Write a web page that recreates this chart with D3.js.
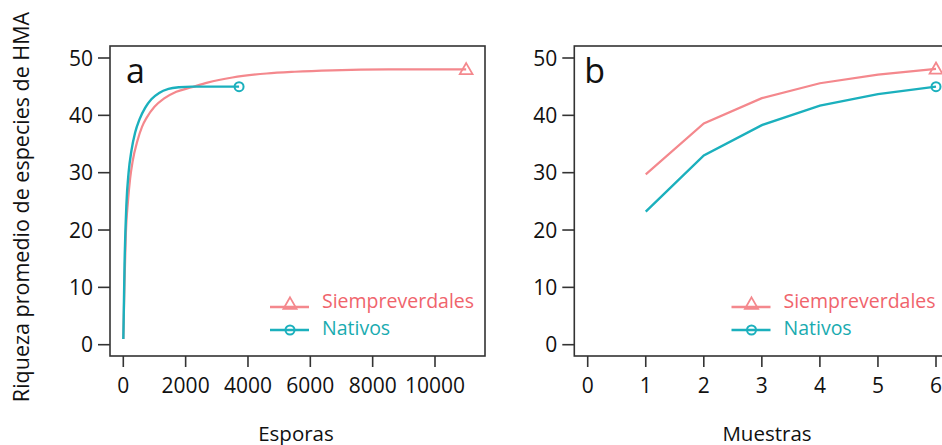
<!DOCTYPE html>
<html>
<head>
<meta charset="utf-8">
<script src="https://cdn.jsdelivr.net/npm/d3@7"></script>
<style>
  body { margin: 0; background: #fff; }
  svg { display: block; font-family: "Open Sans", sans-serif; }
</style>
</head>
<body>
<div id="chart"></div>
<script>
// panel a: richness vs spores
var sporesSiemp = [1, 40, 80, 150, 220, 300, 450, 600, 750, 1000, 1300, 1700, 2200, 2700, 3500, 4600, 5500, 6700, 8500, 11000];
var richSiemp   = [1, 11, 19, 25, 29, 32, 35.5, 38, 39.6, 41.5, 42.9, 44.1, 44.9, 45.7, 46.6, 47.3, 47.6, 47.85, 48, 48];
var sporesNat = [1, 40, 100, 170, 260, 380, 520, 700, 900, 1150, 1450, 1800, 2200, 3000, 3714];
var richNat   = [1, 14, 24.5, 30, 33.8, 37, 39.3, 41.3, 42.8, 43.9, 44.6, 44.9, 45, 45, 45];

// panel b: richness vs samples
var muestras = [1, 2, 3, 4, 5, 6];
var richSiempB = [29.7, 38.6, 43.0, 45.6, 47.1, 48.1];
var richNatB   = [23.2, 33.0, 38.3, 41.7, 43.7, 45.0];

var yTicks = [0, 10, 20, 30, 40, 50];
var xTicksA = [0, 2000, 4000, 6000, 8000, 10000];
var xTicksB = [0, 1, 2, 3, 4, 5, 6];
var seriesNames = ['Siempreverdales', 'Nativos'];

var PINK = '#f4888d', PINK_TXT = '#f0646c';
var TEAL = '#1bb0bd', TEAL_TXT = '#19abb0';

var W = 942, H = 445;
var svg = d3.select('#chart').append('svg')
  .attr('width', W).attr('height', H);

var plotTop = 46, plotBottom = 356, plotW = 375;
var y = d3.scaleLinear().domain([0, 50]).range([344.7, 58]);

function zip(a, b) { return a.map(function(v, i) { return [v, b[i]]; }); }

function drawPanel(opts) {
  var g = svg.append('g');
  var x = d3.scaleLinear().domain(opts.xDomain).range(opts.xRange);

  g.append('rect')
    .attr('x', opts.left).attr('y', plotTop)
    .attr('width', plotW).attr('height', plotBottom - plotTop)
    .attr('fill', 'none').attr('stroke', '#333').attr('stroke-width', 1.6);

  // y axis ticks
  g.selectAll('.yt').data(yTicks).enter().append('line')
    .attr('x1', opts.left - 12).attr('x2', opts.left)
    .attr('y1', function(d) { return y(d); }).attr('y2', function(d) { return y(d); })
    .attr('stroke', '#333').attr('stroke-width', 1.6);
  g.selectAll('.yl').data(yTicks).enter().append('text')
    .attr('x', opts.left - 17).attr('y', function(d) { return y(d) + 7.5; })
    .attr('text-anchor', 'end').attr('font-size', 21).attr('fill', '#111')
    .text(function(d) { return d; });

  // x axis ticks
  g.selectAll('.xt').data(opts.xTicks).enter().append('line')
    .attr('x1', function(d) { return x(d); }).attr('x2', function(d) { return x(d); })
    .attr('y1', plotBottom).attr('y2', plotBottom + 11)
    .attr('stroke', '#333').attr('stroke-width', 1.6);
  g.selectAll('.xl').data(opts.xTicks).enter().append('text')
    .attr('x', function(d) { return x(d); }).attr('y', 393)
    .attr('text-anchor', 'middle').attr('font-size', 21).attr('fill', '#111')
    .text(function(d) { return d; });

  g.append('text')
    .attr('x', opts.titleX).attr('y', 441)
    .attr('text-anchor', 'middle').attr('font-size', 20.5).attr('fill', '#111')
    .text(opts.title);

  g.append('text')
    .attr('x', opts.left + opts.letterDx).attr('y', 83)
    .attr('font-size', 34).attr('fill', '#111')
    .text(opts.letter);

  var line = d3.line()
    .x(function(d) { return x(d[0]); })
    .y(function(d) { return y(d[1]); })
    .curve(opts.curve);

  var clip = 'clip' + opts.letter;
  svg.append('clipPath').attr('id', clip).append('rect')
    .attr('x', opts.left).attr('y', plotTop).attr('width', plotW).attr('height', plotBottom - plotTop);

  var plot = g.append('g').attr('clip-path', 'url(#' + clip + ')');
  plot.append('path').datum(opts.pink)
    .attr('d', line).attr('fill', 'none').attr('stroke', PINK).attr('stroke-width', 2.2);
  plot.append('path').datum(opts.teal)
    .attr('d', line).attr('fill', 'none').attr('stroke', TEAL).attr('stroke-width', 2.4);

  var pEnd = opts.pink[opts.pink.length - 1];
  var tEnd = opts.teal[opts.teal.length - 1];
  plot.append('path')
    .attr('d', d3.symbol(d3.symbolTriangle, 70)())
    .attr('transform', 'translate(' + x(pEnd[0]) + ',' + (y(pEnd[1]) + 1) + ')')
    .attr('fill', 'none').attr('stroke', PINK).attr('stroke-width', 1.8);
  plot.append('circle')
    .attr('cx', x(tEnd[0])).attr('cy', y(tEnd[1])).attr('r', 4.5)
    .attr('fill', 'none').attr('stroke', TEAL).attr('stroke-width', 2);

  // legend
  var lx = opts.legendX;
  var legend = [
    { name: seriesNames[0], c: PINK, t: PINK_TXT, ly: 307, ty: 308 },
    { name: seriesNames[1], c: TEAL, t: TEAL_TXT, ly: 330, ty: 335 }
  ];
  legend.forEach(function(l, i) {
    g.append('line').attr('x1', lx).attr('x2', lx + 39)
      .attr('y1', l.ly).attr('y2', l.ly)
      .attr('stroke', l.c).attr('stroke-width', 2.4);
    if (i === 0) {
      g.append('path')
        .attr('d', d3.symbol(d3.symbolTriangle, 75)())
        .attr('transform', 'translate(' + (lx + 20) + ',' + (l.ly - 2) + ')')
        .attr('fill', 'none').attr('stroke', l.c).attr('stroke-width', 1.8);
    } else {
      g.append('circle').attr('cx', lx + 20).attr('cy', l.ly).attr('r', 4.5)
        .attr('fill', 'none').attr('stroke', l.c).attr('stroke-width', 2);
    }
    g.append('text').attr('x', lx + 52).attr('y', l.ty)
      .attr('font-size', 19.5).attr('fill', l.t)
      .text(l.name);
  });
}

drawPanel({
  left: 110, letter: 'a', letterDx: 16,
  xDomain: [0, 10000], xRange: [123.3, 435],
  xTicks: xTicksA, title: 'Esporas', titleX: 296,
  pink: zip(sporesSiemp, richSiemp), teal: zip(sporesNat, richNat),
  curve: d3.curveMonotoneX, legendX: 270
});

drawPanel({
  left: 574.3, letter: 'b', letterDx: 10,
  xDomain: [0, 6], xRange: [587.7, 936],
  xTicks: xTicksB, title: 'Muestras', titleX: 767,
  pink: zip(muestras, richSiempB), teal: zip(muestras, richNatB),
  curve: d3.curveLinear, legendX: 731.5
});

// shared y title
svg.append('text')
  .attr('transform', 'translate(29,207) rotate(-90)')
  .attr('text-anchor', 'middle').attr('font-size', 21.5).attr('fill', '#111')
  .text('Riqueza promedio de especies de HMA');
</script>
</body>
</html>
